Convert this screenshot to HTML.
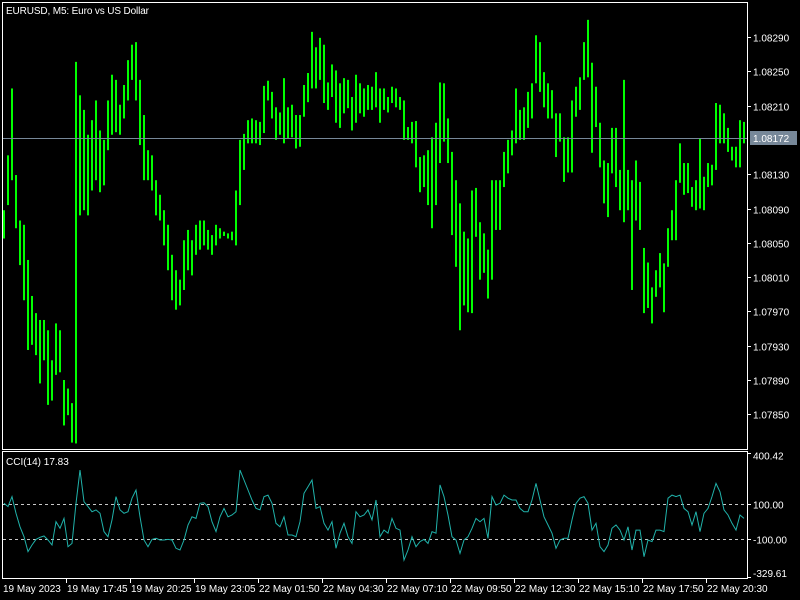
<!DOCTYPE html>
<html><head><meta charset="utf-8">
<style>
html,body{margin:0;padding:0;background:#000;width:800px;height:600px;overflow:hidden}
svg{display:block}
text{font-family:"Liberation Sans",sans-serif;font-size:10px;fill:#fff}
</style></head>
<body>
<svg id="chart" width="800" height="600" viewBox="0 0 800 600">
<rect x="0" y="0" width="800" height="600" fill="#000"/>
<g id="bars"></g>
<line x1="2" y1="138.5" x2="747" y2="138.5" stroke="#778899" stroke-width="1"/>
<rect x="2.5" y="2.5" width="745" height="447" fill="none" stroke="#fff" stroke-width="1"/>
<rect x="2.5" y="451.5" width="745" height="127" fill="none" stroke="#fff" stroke-width="1"/>
<text x="6" y="14" textLength="143">EURUSD, M5:  Euro vs US Dollar</text>
<g id="yaxis"></g>
<rect x="750" y="131" width="47" height="14" fill="#778899"/>
<text x="753" y="142">1.08172</text>
<line x1="3" y1="504.5" x2="747" y2="504.5" stroke="#c8c8c8" stroke-dasharray="3,3"/>
<line x1="3" y1="539.5" x2="747" y2="539.5" stroke="#c8c8c8" stroke-dasharray="3,3"/>
<g id="cciaxis"></g>
<path id="cciline" fill="none" stroke="#20b2aa" stroke-width="1"/>
<text x="6" y="465">CCI(14) 17.83</text>
<g id="xaxis"></g>
</svg>
<script>
const highs=[108088,108152,108230,108129,108076,108071,108030,107988,107968,107960,107960,107948,107913,107956,107948,107890,107880,107863,108261,108222,108205,108176,108193,108216,108181,108170,108216,108246,108240,108211,108234,108263,108281,108284,108240,108199,108158,108152,108123,108106,108088,108071,108036,108018,108007,108053,108065,108053,108071,108076,108076,108065,108059,108071,108067,108063,108061,108063,108111,108170,108177,108193,108195,108193,108191,108233,108239,108226,108208,108202,108242,108208,108211,108199,108199,108234,108248,108296,108278,108289,108281,108237,108258,108251,108236,108242,108240,108220,108246,108236,108230,108234,108232,108249,108230,108230,108220,108232,108230,108220,108216,108185,108191,108192,108150,108152,108158,108173,108190,108237,108236,108195,108156,108123,108096,108063,108055,108111,108114,108074,108061,108042,108123,108123,108123,108156,108170,108181,108230,108205,108208,108226,108236,108292,108284,108249,108236,108228,108201,108201,108173,108173,108216,108232,108243,108284,108310,108260,108232,108190,108146,108143,108184,108184,108135,108240,108135,108123,108146,108121,108044,108027,107998,108018,108038,108026,108067,108088,108123,108166,108143,108143,108115,108123,108172,108127,108143,108141,108213,108211,108201,108184,108162,108162,108193,108191];
const lows=[108055,108094,108123,108067,108024,107983,107925,107931,107919,107886,107913,107861,107866,107896,107899,107837,107849,107817,107816,108082,108088,108082,108111,108123,108109,108117,108158,108176,108179,108176,108195,108216,108240,108216,108164,108123,108123,108111,108082,108076,108047,108018,107983,107972,107977,107995,108018,108012,108036,108042,108047,108042,108036,108047,108055,108058,108055,108053,108047,108094,108135,108166,108166,108166,108164,108178,108216,108195,108170,108176,108166,108172,108173,108160,108162,108197,108214,108230,108230,108240,108213,108205,108220,108190,108184,108201,108207,108181,108190,108201,108197,108205,108205,108208,108190,108205,108202,108213,108208,108205,108170,108170,108166,108138,108109,108115,108094,108067,108094,108143,108168,108143,108059,108022,107948,107977,107969,107968,108057,108007,108015,107985,108007,108065,108065,108115,108131,108152,108166,108170,108170,108184,108195,108236,108226,108208,108195,108195,108150,108168,108121,108132,108132,108197,108205,108240,108243,108155,108185,108138,108096,108080,108131,108115,108088,108074,108088,107995,108076,108065,107968,107974,107956,107987,107998,107969,108022,108053,108053,108120,108106,108108,108092,108088,108090,108088,108115,108117,108135,108166,108166,108156,108146,108138,108138,108166];
const cciValues=[104,85,142,47,-30,-87,-172,-134,-102,-90,-83,-106,-134,-1,-39,18,-144,-125,104,294,113,85,56,66,47,-58,-87,9,142,66,47,56,133,180,27,-106,-144,-102,-96,-106,-106,-102,-106,-153,-163,-106,-20,27,18,104,107,85,-1,-58,27,75,27,37,56,294,237,180,123,75,66,142,151,104,-10,-30,27,-77,-77,-87,-1,161,199,237,75,85,-10,-49,-1,-153,-67,-10,-87,-125,56,27,37,66,9,123,-87,-49,-67,18,-39,-49,-220,-163,-87,-144,-115,-102,-125,-58,-67,209,142,37,-87,-106,-182,-106,-87,-39,18,-1,18,-96,142,94,104,151,133,123,123,75,56,56,123,218,123,27,-20,-67,-153,-106,-96,-96,9,104,133,142,104,-49,-10,-144,-172,-134,-39,-20,-49,-106,-30,-163,-49,-49,-201,-106,-115,-49,-49,-58,133,151,142,151,75,56,-20,56,-58,47,75,142,218,170,66,37,-10,-49,37,18];
const priceTicks=[108290,108250,108210,108130,108090,108050,108010,107970,107930,107890,107850];
const cciTicks=[400.42,100,-100,-329.61];
const timeLabels=["19 May 2023","19 May 17:45","19 May 20:25","19 May 23:05","22 May 01:50","22 May 04:30","22 May 07:10","22 May 09:50","22 May 12:30","22 May 15:10","22 May 17:50","22 May 20:30"];

const NS="http://www.w3.org/2000/svg";
function yPrice(p){return 37+(108290-p)*0.8575;}
function yCci(v){return 521.5-v*0.175;}
function xBar(i){return 4+4*i;}

const barsG=document.getElementById('bars');
for(let i=0;i<highs.length;i++){
  const r=document.createElementNS(NS,'rect');
  const y1=yPrice(highs[i]),y2=yPrice(lows[i]);
  r.setAttribute('x',xBar(i)-1);
  r.setAttribute('y',y1);
  r.setAttribute('width',2);
  r.setAttribute('height',Math.max(1,y2-y1));
  r.setAttribute('fill','#00ff00');
  
  
  barsG.appendChild(r);
}

const ya=document.getElementById('yaxis');
priceTicks.forEach(p=>{
  const y=Math.round(yPrice(p))+0.5;
  const l=document.createElementNS(NS,'line');
  l.setAttribute('x1',747);l.setAttribute('x2',751);l.setAttribute('y1',y);l.setAttribute('y2',y);
  l.setAttribute('stroke','#fff');
  
  
  ya.appendChild(l);
  const t=document.createElementNS(NS,'text');
  t.setAttribute('x',753);t.setAttribute('y',y+4);
  t.textContent=(p/100000).toFixed(5);
  
  
  ya.appendChild(t);
});

const ca=document.getElementById('cciaxis');
cciTicks.forEach(v=>{
  let y=Math.round(yCci(v))+0.5;
  if(y<453)y=453.5; if(y>578)y=577.5;
  const l=document.createElementNS(NS,'line');
  l.setAttribute('x1',747);l.setAttribute('x2',751);l.setAttribute('y1',y);l.setAttribute('y2',y);
  l.setAttribute('stroke','#fff');
  
  
  ca.appendChild(l);
  const t=document.createElementNS(NS,'text');
  t.setAttribute('x',753);t.setAttribute('y',Math.min(y+4,577)+(v>300?2:0));
  t.textContent=v.toFixed(2);
  
  
  ca.appendChild(t);
});

let d='';
cciValues.forEach((v,i)=>{d+=(i?'L':'M')+xBar(i)+','+yCci(v).toFixed(1);});
document.getElementById('cciline').setAttribute('d',d);

const xa=document.getElementById('xaxis');
timeLabels.forEach((s,i)=>{
  const x=i===0?3:2+64*i;
  if(i>0){
    const l=document.createElementNS(NS,'line');
    l.setAttribute('x1',x+0.5);l.setAttribute('x2',x+0.5);l.setAttribute('y1',578);l.setAttribute('y2',583);
    l.setAttribute('stroke','#fff');
    
    
    xa.appendChild(l);
  }
  const t=document.createElementNS(NS,'text');
  t.setAttribute('x',i===0?3:x+1);t.setAttribute('y',592);
  t.textContent=s;
  
  
  xa.appendChild(t);
});
</script>
</body></html>
